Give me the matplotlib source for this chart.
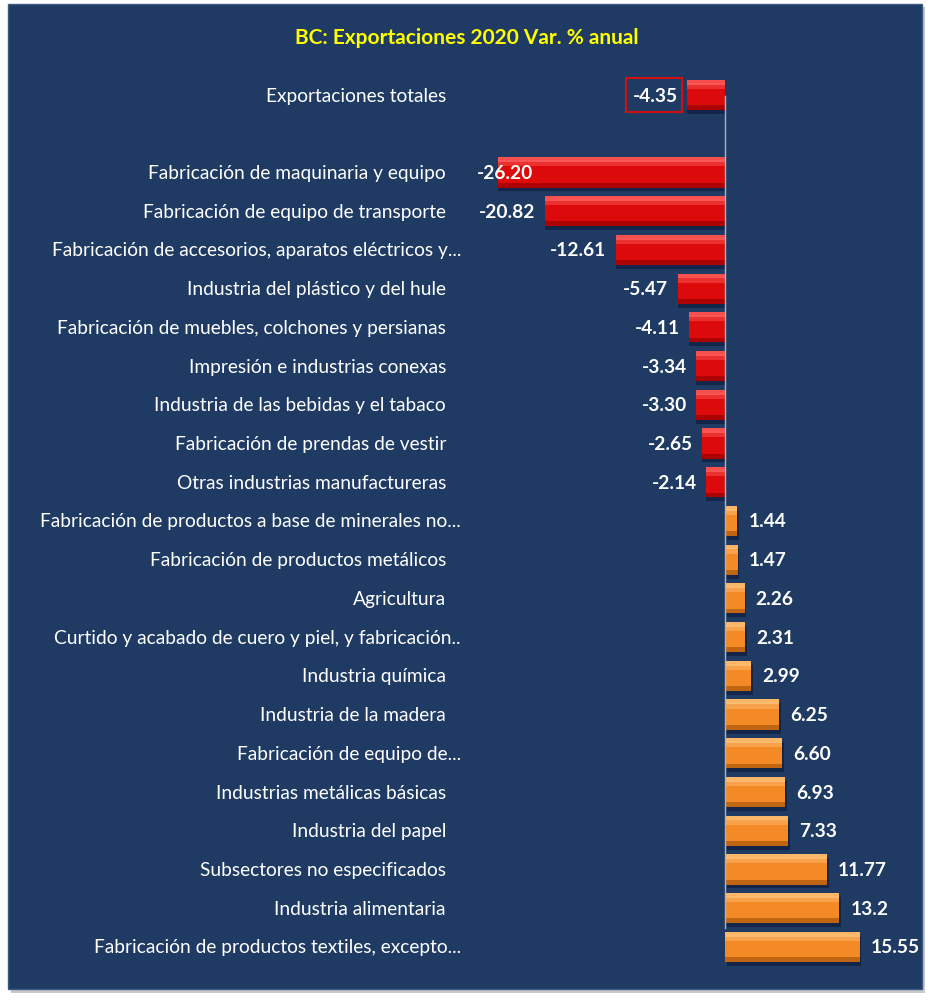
import matplotlib
matplotlib.use("Agg")
import matplotlib.pyplot as plt
from matplotlib.patches import Rectangle

plt.rcParams['font.family'] = ['Lato', 'DejaVu Sans']

# data
total_label = "Exportaciones totales"
total_value = -4.35
sectors = [
    "Fabricación de maquinaria y equipo",
    "Fabricación de equipo de transporte",
    "Fabricación de accesorios, aparatos eléctricos y...",
    "Industria del plástico y del hule",
    "Fabricación de muebles, colchones y persianas",
    "Impresión e industrias conexas",
    "Industria de las bebidas y el tabaco",
    "Fabricación de prendas de vestir",
    "Otras industrias manufactureras",
    "Fabricación de productos a base de minerales no...",
    "Fabricación de productos metálicos",
    "Agricultura",
    "Curtido y acabado de cuero y piel, y fabricación..",
    "Industria química",
    "Industria de la madera",
    "Fabricación de equipo de...",
    "Industrias metálicas básicas",
    "Industria del papel",
    "Subsectores no especificados",
    "Industria alimentaria",
    "Fabricación de productos textiles, excepto...",
]
sector_values = [-26.20, -20.82, -12.61, -5.47, -4.11, -3.34, -3.30, -2.65, -2.14,
                 1.44, 1.47, 2.26, 2.31, 2.99, 6.25, 6.60, 6.93, 7.33, 11.77, 13.2, 15.55]
sector_text = ["-26.20", "-20.82", "-12.61", "-5.47", "-4.11", "-3.34", "-3.30", "-2.65", "-2.14",
               "1.44", "1.47", "2.26", "2.31", "2.99", "6.25", "6.60", "6.93", "7.33", "11.77", "13.2", "15.55"]

labels = [total_label] + sectors
values = [total_value] + sector_values
texts = ["-4.35"] + sector_text
ypos = [0] + list(range(2, 2 + len(sectors)))

W, H = 932, 1003
fig = plt.figure(figsize=(W / 100, H / 100), dpi=100, facecolor="white")

# panel background with soft shadow
fig.patches.append(Rectangle((11 / W, 1 - 994 / H), 914 / W, 986 / H, transform=fig.transFigure,
                             facecolor="#c8c8c8", edgecolor="none", zorder=-2))
fig.patches.append(Rectangle((8 / W, 1 - 990 / H), 914 / W, 985 / H, transform=fig.transFigure,
                             facecolor="#1f3b63", edgecolor="#3d5a85", lw=1, zorder=-1))

ax_l, ax_r, ax_t, ax_b = 470, 905, 60, 975
ax = fig.add_axes([ax_l / W, 1 - ax_b / H, (ax_r - ax_l) / W, (ax_b - ax_t) / H])
ax.set_facecolor("none")
scale = 8.66
ax.set_xlim(-(725 - ax_l) / scale, (ax_r - 725) / scale)
ax.set_ylim(22.7, -0.93)
for s in ax.spines.values():
    s.set_visible(False)
ax.set_xticks([])
ax.set_yticks([])

h = 0.78
neg_main, neg_light, neg_dark = "#dc0a0a", "#ff6060", "#a00000"
pos_main, pos_light, pos_dark = "#f48a26", "#ffc27a", "#b45c0e"
main = [neg_main if v < 0 else pos_main for v in values]
light = [neg_light if v < 0 else pos_light for v in values]
dark = [neg_dark if v < 0 else pos_dark for v in values]

# shadow, body, bevel highlights
ax.barh([y + 0.1 for y in ypos], values, height=h, left=[0.2 if v > 0 else 0.0 for v in values],
        color="#13264a", zorder=1)
ax.barh(ypos, values, height=h, color=main, zorder=2)
ax.barh([y + h * 0.42 for y in ypos], values, height=h * 0.16, color=dark, alpha=0.8, zorder=3)
ax.barh([y - h * 0.30 for y in ypos], values, height=h * 0.2, color=light, alpha=0.45, zorder=3)
ax.barh([y - h * 0.42 for y in ypos], values, height=h * 0.16, color=light, alpha=0.8, zorder=3)

ax.axvline(0, color="#a9b3c4", lw=1, ymin=0.05, ymax=0.96, zorder=4)

# category labels (truncated ones overflow to the right, as in the original)
for y, lab in zip(ypos, labels):
    dx = -9 if lab.endswith("..") else -24
    ax.annotate(lab, (0, y), xycoords=("axes fraction", "data"), xytext=(dx, 0),
                textcoords="offset pixels", ha="right", va="center", color="white",
                fontsize=13.8, annotation_clip=False)

for y, v, t in zip(ypos, values, texts):
    if v < 0:
        xr = max(v - 1.1, -22.2)
        ax.text(xr, y, t, ha="right", va="center", color="white", fontsize=13.8,
                fontweight="bold", zorder=5)
    else:
        ax.annotate(t, (v, y), xytext=(11, 0), textcoords="offset pixels",
                    ha="left", va="center", color="white", fontsize=13.8, fontweight="bold", zorder=5)

# red box around total value
ax.add_patch(Rectangle((-(725 - 626) / scale, -0.43), 56 / scale, 0.86, facecolor="none",
                       edgecolor="#d01010", lw=1.5, zorder=5))

fig.text(467 / W, 1 - 38 / H, "BC: Exportaciones 2020 Var. % anual", ha="center", va="center",
         color="#ffff00", fontsize=15, fontweight="bold")

fig.savefig("out.png", dpi=100, facecolor="white")
